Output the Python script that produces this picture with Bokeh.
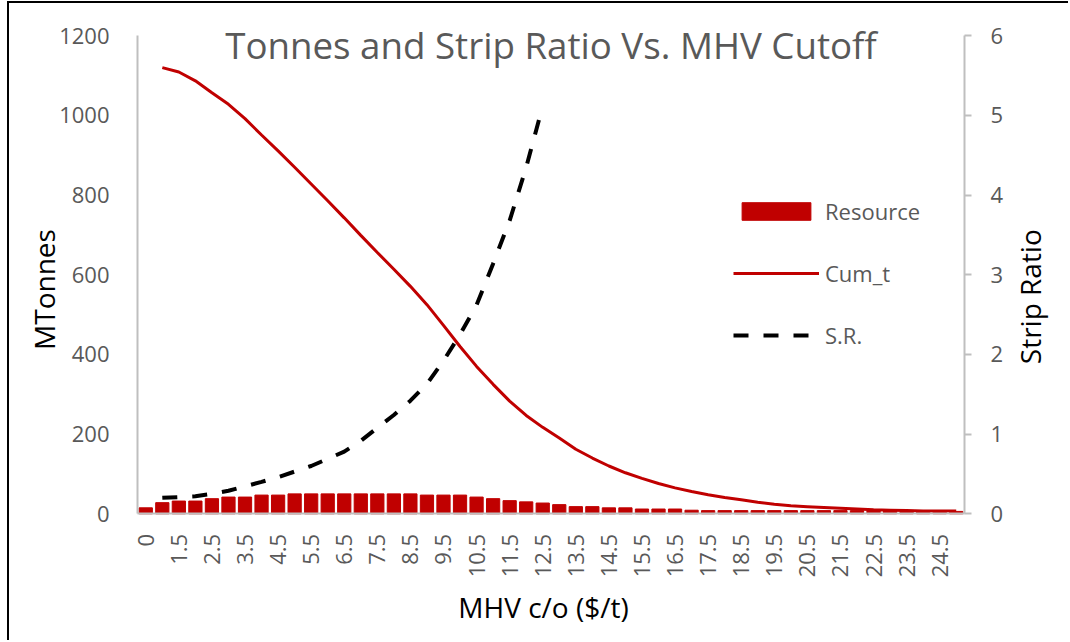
import math
import numpy as np
from bokeh.plotting import figure
from bokeh.models import (ColumnDataSource, Range1d, LinearAxis, FixedTicker,
                          SingleIntervalTicker, Label)
from bokeh.embed import file_html
from bokeh.resources import INLINE

# ---- data ----
cutoffs = [0, 1.0, 1.5, 2.0, 2.5, 3.0, 3.5, 4.0, 4.5, 5.0, 5.5, 6.0, 6.5, 7.0, 7.5,
           8.0, 8.5, 9.0, 9.5, 10.0, 10.5, 11.0, 11.5, 12.0, 12.5, 13.0, 13.5, 14.0,
           14.5, 15.0, 15.5, 16.0, 16.5, 17.0, 17.5, 18.0, 18.5, 19.0, 19.5, 20.0,
           20.5, 21.0, 21.5, 22.0, 22.5, 23.0, 23.5, 24.0, 24.5, 25.0]

resource = [15, 28, 32, 32, 38, 42, 42, 47, 47, 50,
            50, 50, 50, 50, 50, 50, 50, 47, 47, 47,
            42, 38, 33, 30, 27, 23, 18, 18, 15, 15,
            12, 12, 12, 9, 8, 8, 8, 8, 8, 8,
            8, 8, 8, 8, 7, 7, 6, 6, 6, 6]

cum_t = [np.nan, 1120, 1109, 1087, 1057, 1028, 992, 951, 911, 870,
         828, 786, 743, 699, 656, 614, 571, 525, 473, 420,
         370, 325, 283, 247, 217, 190, 162, 140, 120, 103,
         89, 76, 65, 56, 48, 41, 35, 29, 24, 20,
         18, 16, 14, 12, 10, 9, 8, 7, 7, 7]

strip_ratio = [np.nan, 0.20, 0.21, 0.22, 0.25, 0.29, 0.345, 0.40, 0.46, 0.53,
               0.60, 0.69, 0.78, 0.915, 1.08, 1.24, 1.42, 1.63, 1.92, 2.25,
               2.62, 3.14, 3.68, 4.35, 5.12] + [np.nan] * 25

title_text = "Tonnes and Strip Ratio Vs. MHV Cutoff"
x_title = "MHV c/o ($/t)"
left_title = "MTonnes"
right_title = "Strip Ratio"
left_max, sr_max = 1200, 6

# ---- layout (pixels; the drawing area covers the whole canvas) ----
W, H = 1061, 639
ORIGIN_X = 128           # canvas x of the left edge of the first category
ORIGIN_Y_FROM_BOTTOM = 128.7   # canvas distance from bottom edge to value 0
AXIS_PX_H = 478          # pixel height of the 0..1200 axis
CAT_PX = 16.54           # pixel width of one category
n = len(cutoffs)
x_lo = -0.5 - ORIGIN_X / CAT_PX
x_hi = x_lo + W / CAT_PX
y_lo = -ORIGIN_Y_FROM_BOTTOM * left_max / AXIS_PX_H
y_hi = y_lo + H * left_max / AXIS_PX_H
sr_lo = -ORIGIN_Y_FROM_BOTTOM * sr_max / AXIS_PX_H
sr_hi = sr_lo + H * sr_max / AXIS_PX_H

# ---- styling ----
RED = "#C00000"
GRAY_TXT = "#595959"
AXIS_GRAY = "#BFBFBF"
FONT = "Open Sans"

idx = list(range(n))
src = ColumnDataSource(dict(x=idx, resource=resource, cum_t=cum_t, sr=strip_ratio))

p = figure(width=W, height=H,
           x_range=Range1d(x_lo, x_hi),
           y_range=Range1d(y_lo, y_hi),
           output_backend="svg", toolbar_location=None,
           min_border_left=0, min_border_right=0,
           min_border_top=0, min_border_bottom=0)
p.styles = {"position": "absolute", "left": "9px", "top": "3px",
            "box-shadow": "-2px -2px 0 0 #000000"}
p.extra_y_ranges = {"sr": Range1d(sr_lo, sr_hi)}
p.outline_line_color = None
p.xgrid.visible = False
p.ygrid.visible = False
p.background_fill_color = "white"
p.border_fill_color = "white"

p.vbar(x="x", top="resource", width=0.8, color=RED, source=src, legend_label="Resource")
p.line(x="x", y="cum_t", color=RED, line_width=3, source=src, legend_label="Cum_t")
p.line(x="x", y="sr", color="black", line_width=4, line_dash="15 15",
       y_range_name="sr", source=src, legend_label="S.R.")

# x axis (pinned at value 0)
xticks = list(range(0, n - 1, 2))
xa = p.xaxis[0]
xa.ticker = FixedTicker(ticks=xticks)
xa.major_label_overrides = {i: f"{cutoffs[i]:g}" for i in xticks}
xa.major_label_orientation = math.pi / 2
xa.fixed_location = 0
xa.bounds = (-0.5, n - 0.5)

# left axis (pinned at the left edge of the categories)
ya = p.yaxis[0]
ya.ticker = SingleIntervalTicker(interval=200, num_minor_ticks=0)
ya.fixed_location = -0.5
ya.bounds = (0, left_max)

# right axis (pinned at the right edge of the categories)
ra = LinearAxis(y_range_name="sr", fixed_location=n - 0.5, bounds=(0, sr_max),
                ticker=SingleIntervalTicker(interval=1, num_minor_ticks=0))
p.add_layout(ra, "right")

for ax in (xa, ya, ra):
    ax.axis_line_color = AXIS_GRAY
    ax.axis_line_width = 2
    ax.major_tick_line_color = None
    ax.minor_tick_line_color = None
    ax.major_label_text_font = FONT
    ax.major_label_text_font_size = "22px"
    ax.major_label_text_color = GRAY_TXT

ra.major_tick_line_color = AXIS_GRAY
ra.major_tick_line_width = 2
ra.major_tick_in = 0
ra.major_tick_out = 7
ra.major_label_standoff = 19
ya.major_label_standoff = 22
xa.major_label_standoff = 14

# titles
p.add_layout(Label(x=(n - 1) / 2, y=1176, text=title_text,
                   text_align="center", text_baseline="alphabetic",
                   text_font=FONT, text_font_size="36.7px", text_color=GRAY_TXT))
p.add_layout(Label(x=24.05, y=-235, text=x_title,
                   text_align="center", text_baseline="middle",
                   text_font=FONT, text_font_size="28px", text_color="black"))
p.add_layout(Label(x=-6.18, y=563, text=left_title, angle=math.pi / 2,
                   text_align="center", text_baseline="middle",
                   text_font=FONT, text_font_size="28px", text_color="black"))
p.add_layout(Label(x=53.46, y=545, text=right_title, angle=math.pi / 2,
                   text_align="center", text_baseline="middle",
                   text_font=FONT, text_font_size="28px", text_color="black"))

lg = p.legend[0]
lg.location = (596 + ORIGIN_X, 163 + ORIGIN_Y_FROM_BOTTOM)
lg.background_fill_alpha = 0
lg.border_line_color = None
lg.label_text_font = FONT
lg.label_text_font_size = "22px"
lg.label_text_color = GRAY_TXT
lg.glyph_width = 86
lg.glyph_height = 22
lg.label_standoff = 6
lg.spacing = 32
lg.padding = 0
lg.margin = 0

open("out.html", "w").write(file_html(p, INLINE))
